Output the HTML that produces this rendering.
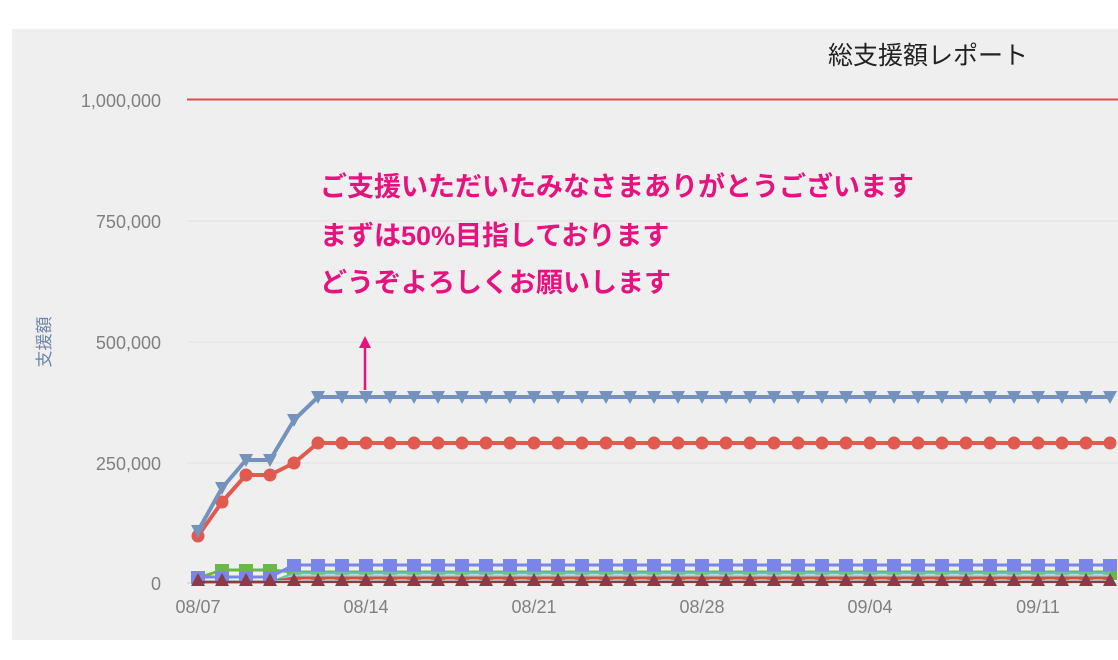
<!DOCTYPE html>
<html><head><meta charset="utf-8"><style>
html,body{margin:0;padding:0;background:#fff;}
svg{display:block;font-family:"Liberation Sans","Noto Sans CJK JP",sans-serif;}
</style></head><body>
<svg id="s" width="1118" height="660" xmlns="http://www.w3.org/2000/svg">
<rect x="12" y="29" width="1106" height="611" fill="#efefef"/>
<g stroke="#e2e2e2" stroke-width="1">
<line x1="187" y1="221" x2="1118" y2="221"/>
<line x1="187" y1="342" x2="1118" y2="342"/>
<line x1="187" y1="463" x2="1118" y2="463"/>
</g>
<line x1="187" y1="583" x2="1118" y2="583" stroke="#ccd" stroke-width="1"/>
<line x1="187" y1="99.5" x2="1118" y2="99.5" stroke="#d94a4a" stroke-width="2"/>
<g fill="#808080" font-size="18" text-anchor="end">
<text x="161" y="107">1,000,000</text>
<text x="161" y="228">750,000</text>
<text x="161" y="349">500,000</text>
<text x="161" y="470">250,000</text>
<text x="161" y="590">0</text>
</g>
<g fill="#808080" font-size="18" text-anchor="middle">
<text x="198" y="613">08/07</text><text x="366" y="613">08/14</text><text x="534" y="613">08/21</text>
<text x="702" y="613">08/28</text><text x="870" y="613">09/04</text><text x="1038" y="613">09/11</text>
</g>
<text x="0" y="0" transform="translate(50,342) rotate(-90)" text-anchor="middle" fill="#6b86a8" font-size="17">支援額</text>
<text x="928" y="64" text-anchor="middle" fill="#222" font-size="25">総支援額レポート</text>
<g fill="#e6137e" font-size="27" font-weight="bold">
<text x="320" y="196">ご支援いただいたみなさまありがとうございます</text>
<text x="320" y="245">まずは50%目指しております</text>
<text x="320" y="292">どうぞよろしくお願いします</text>
</g>
<line x1="365" y1="390" x2="365" y2="345" stroke="#e6137e" stroke-width="2.5"/>
<polygon points="365,336 359,348 371,348" fill="#e6137e"/>
<g id="g"></g>
</svg>
<script>
var g=document.getElementById('g'),N=39,X=i=>198+24*i;
function line(ys,c,w){var p=[];for(var i=0;i<N;i++)p.push(X(i)+','+ys(i));g.insertAdjacentHTML('beforeend','<polyline points="'+p.join(' ')+'" fill="none" stroke="'+c+'" stroke-width="'+w+'" stroke-linejoin="round"/>');}
function mk(ys,c,t){var h='';for(var i=0;i<N;i++){var x=X(i),y=ys(i);
if(t=='c')h+='<circle cx="'+x+'" cy="'+y+'" r="6.5" fill="'+c+'"/>';
else if(t=='d')h+='<polygon points="'+(x-7)+','+(y-6)+' '+(x+7)+','+(y-6)+' '+x+','+(y+7)+'" fill="'+c+'"/>';
else if(t=='u')h+='<polygon points="'+(x-7)+','+(y+6)+' '+(x+7)+','+(y+6)+' '+x+','+(y-7)+'" fill="'+c+'"/>';
else h+='<rect x="'+(x-7)+'" y="'+(y-6)+'" width="14" height="12" fill="'+c+'"/>';}
g.insertAdjacentHTML('beforeend',h);}
var green=i=>i>=1&&i<=3?570:(i==0?578:572);
line(green,'#6bb84a',3);mk(i=>i>=1&&i<=3?570:(i==0?578:574),'#6bb84a','s');
line(i=>i<4?582:576,'#8fd6e6',3);line(i=>i<4?582:573,'#6cc0a0',2);
line(i=>i<4?582:578,'#d05040',3);line(i=>581,'#b0b0b0',2);
var pu=i=>i<4?577:565;line(pu,'#7b84e8',3);mk(pu,'#7b84e8','s');
line(i=>582,'#8b3a4a',2);mk(i=>580,'#8b3a4a','u');
var b=[531,488,460,460,420,397],r=[536,502,475,475,463,443];
var bl=i=>i<6?b[i]:397,rd=i=>i<6?r[i]:443;
line(rd,'#e05a50',4);mk(rd,'#e05a50','c');
line(bl,'#7393bd',4);mk(bl,'#7393bd','d');
</script>
</body></html>
